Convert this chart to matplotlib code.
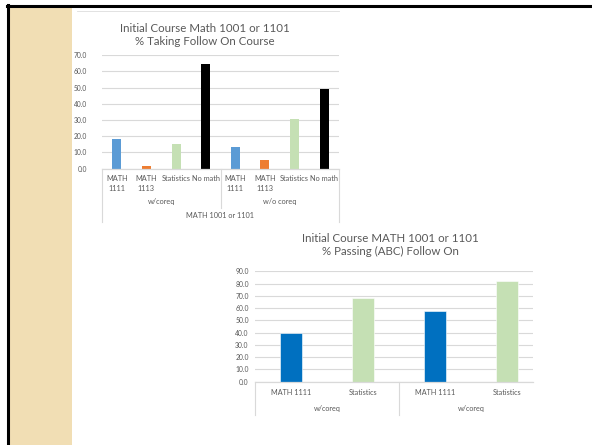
"""Slide with two Excel-style bar charts on follow-on math courses."""
import matplotlib
matplotlib.use("Agg")
import matplotlib.pyplot as plt
import matplotlib.transforms as mtransforms
from matplotlib.lines import Line2D
from matplotlib.patches import Rectangle
import numpy as np

W, H = 592, 445

# chart 1: % taking follow on course
top_cats = ["MATH\n1111", "MATH\n1113", "Statistics", "No math"]
top_groups = ["w/coreq", "w/o coreq"]
top_outer = "MATH 1001 or 1101"
top_coreq = [18.1, 1.6, 15.3, 64.6]
top_no_coreq = [13.4, 5.3, 30.9, 48.9]
top_colors = ["#5B9BD5", "#ED7D31", "#C5E0B4", "#000000"]
top_yticks = [0, 10, 20, 30, 40, 50, 60, 70]

# chart 2: % passing (ABC) follow on
bot_cats = ["MATH 1111", "Statistics"]
bot_groups = ["w/coreq", "w/coreq"]
bot_values = [39.4, 67.9, 57.9, 81.8]
bot_colors = ["#0070C0", "#C5E0B4"]
bot_yticks = [0, 10, 20, 30, 40, 50, 60, 70, 80, 90]

FONT = ["Lato", "DejaVu Sans"]
TXT = "#595959"
GRID = "#D9D9D9"

plt.rcParams["font.family"] = FONT


def fx(px):
    return px / W


def fy(py):
    return 1 - py / H


def axes_px(fig, left, top, right, bottom):
    return fig.add_axes([fx(left), fy(bottom), (right - left) / W, (bottom - top) / H])


def style_axes(ax, yticks, fs, pad):
    ax.set_ylim(yticks[0], yticks[-1])
    ax.set_yticks(yticks)
    ax.set_yticklabels([f"{v:.1f}" for v in yticks], fontsize=fs, color=TXT)
    ax.tick_params(axis="y", length=0, pad=pad)
    ax.set_xticks([])
    for s in ax.spines.values():
        s.set_visible(False)
    ax.grid(axis="y", color=GRID, linewidth=0.8)
    ax.set_axisbelow(True)
    ax.axhline(0, color=GRID, linewidth=0.9, clip_on=False)
    ax.patch.set_alpha(0)


fig = plt.figure(figsize=(W / 100, H / 100), dpi=100)
fig.patch.set_facecolor("white")

# slide decoration
fig.add_artist(Rectangle((fx(10), 0), fx(62), fy(7), color="#F1DEB4", lw=0, zorder=-5))
fig.add_artist(Line2D([fx(8), fx(8)], [0, fy(5)], color="black", lw=2.2, zorder=-5))
fig.add_artist(Line2D([fx(7), 1], [fy(6), fy(6)], color="black", lw=2.2, zorder=-5))
fig.add_artist(Line2D([fx(77), fx(339)], [fy(10.5), fy(10.5)], color="#DDDDDD", lw=0.6,
                      zorder=-5))

# ---- chart 1 ----
ax1 = axes_px(fig, 102, 55.3, 339, 168.5)
style_axes(ax1, top_yticks, 4.8, 10.8)
ax1.set_xlim(-0.5, 7.5)
x1 = np.arange(len(top_cats) * 2)
vals1 = top_coreq + top_no_coreq
ax1.bar(x1, vals1, width=0.3, color=top_colors * 2)
tr1 = mtransforms.blended_transform_factory(ax1.transData, fig.transFigure)
for i, lab in enumerate(top_cats * 2):
    ax1.text(x1[i], fy(175), lab, transform=tr1, ha="center", va="top",
             fontsize=5.3, color=TXT, linespacing=1.5)
for g, lab in enumerate(top_groups):
    ax1.text(g * 4 + 1.5, fy(202), lab, transform=tr1, ha="center", va="center",
             fontsize=5.3, color=TXT)
ax1.text(3.5, fy(216), top_outer, transform=tr1, ha="center", va="center",
         fontsize=5.3, color=TXT)
for xv, yb in [(-0.5, 222), (3.5, 208), (7.5, 222)]:
    ax1.add_line(Line2D([xv, xv], [fy(168.5), fy(yb)], transform=tr1,
                        color=GRID, lw=0.8, clip_on=False))
fig.text(fx(205), fy(35), "Initial Course Math 1001 or 1101\n% Taking Follow On Course",
         ha="center", va="center", fontsize=8.3, color=TXT, linespacing=1.25)

# ---- chart 2 ----
ax2 = axes_px(fig, 255, 271.3, 533, 381.7)
style_axes(ax2, bot_yticks, 4.9, 4.5)
ax2.set_xlim(-0.503, 3.365)
x2 = np.arange(len(bot_values))
ax2.bar(x2, bot_values, width=0.31, color=bot_colors * 2, edgecolor="white", linewidth=0.4)
tr2 = mtransforms.blended_transform_factory(ax2.transData, fig.transFigure)
for i, lab in enumerate(bot_cats * 2):
    ax2.text(x2[i], fy(392.7), lab, transform=tr2, ha="center", va="center",
             fontsize=5.2, color=TXT)
for g, lab in enumerate(bot_groups):
    ax2.text(g * 2 + 0.5, fy(409), lab, transform=tr2, ha="center", va="center",
             fontsize=5.2, color=TXT)
for xv in [-0.5, 1.5]:
    ax2.add_line(Line2D([xv, xv], [fy(381.7), fy(415)], transform=tr2,
                        color=GRID, lw=0.8, clip_on=False))
fig.text(fx(390), fy(245), "Initial Course MATH 1001 or 1101\n% Passing (ABC) Follow On",
         ha="center", va="center", fontsize=8.3, color=TXT, linespacing=1.3)

fig.savefig("out.png", dpi=100)
